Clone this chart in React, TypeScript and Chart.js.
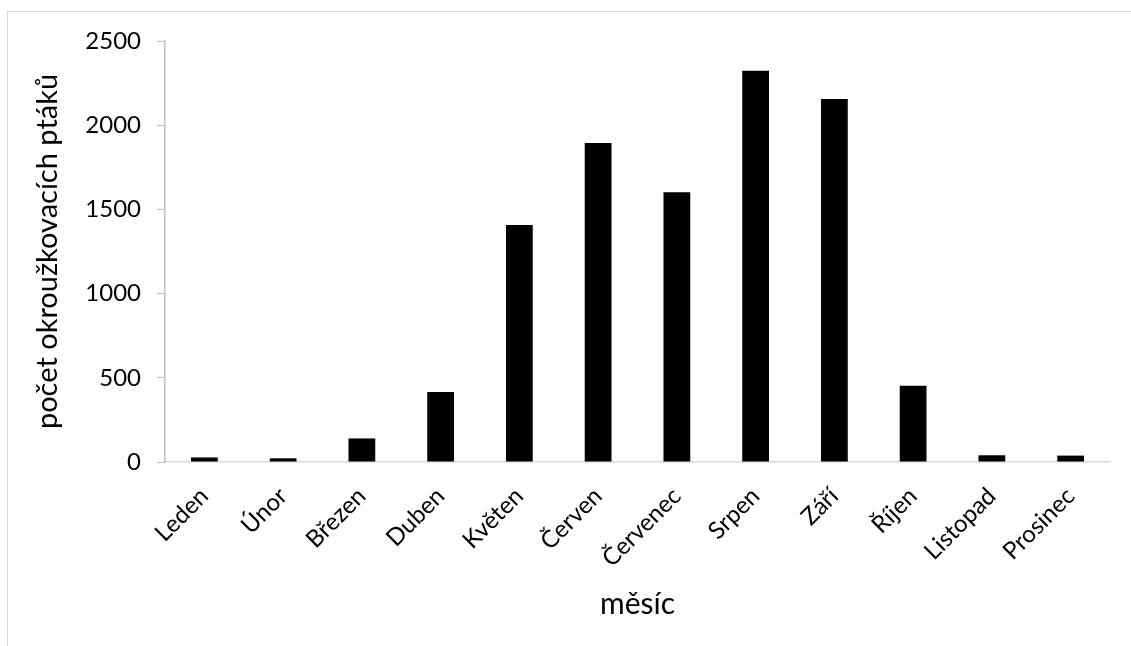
import React, { useEffect, useRef } from "react";
import { Chart, registerables } from "chart.js";

Chart.register(...registerables);

const months = ["Leden", "Únor", "Březen", "Duben", "Květen", "Červen", "Červenec", "Srpen", "Září", "Říjen", "Listopad", "Prosinec"];
const birdCounts = [27, 22, 140, 415, 1408, 1894, 1602, 2324, 2156, 453, 40, 38];
const yTicks = [0, 500, 1000, 1500, 2000, 2500];
const xTitle = "měsíc";
const yTitle = "počet okroužkovacích ptáků";

const FONT = "Lato, 'Open Sans', sans-serif";

export default function App() {
  const ref = useRef<HTMLCanvasElement | null>(null);

  useEffect(() => {
    if (!ref.current) return;
    const chart = new Chart(ref.current, {
      type: "bar",
      data: {
        labels: months,
        datasets: [
          {
            data: birdCounts,
            backgroundColor: "#000000",
            borderWidth: 0,
            categoryPercentage: 1,
            barPercentage: 0.34,
          },
        ],
      },
      options: {
        responsive: false,
        animation: false,
        layout: { padding: { top: 41, right: 21, left: 0, bottom: 0 } },
        plugins: { legend: { display: false }, tooltip: { enabled: false } },
        scales: {
          x: {
            grid: { display: false },
            border: { display: true, color: "#d9d9d9", width: 1.5 },
            ticks: {
              color: "#000",
              font: { family: FONT, size: 24 },
              minRotation: 45,
              maxRotation: 45,
              padding: 12,
              autoSkip: false,
            },
            title: {
              display: true,
              text: xTitle,
              color: "#000",
              font: { family: FONT, size: 30 },
              padding: { top: 4, bottom: 24 },
            },
            afterFit: (s: any) => {
              s.height = 184;
            },
          },
          y: {
            min: 0,
            max: 2500,
            afterBuildTicks: (s: any) => {
              s.ticks = yTicks.map((v) => ({ value: v }));
            },
            grid: {
              drawOnChartArea: false,
              drawTicks: true,
              tickLength: 8,
              color: "#bfbfbf",
            },
            border: { display: true, color: "#bfbfbf", width: 1.5 },
            ticks: {
              color: "#000",
              font: { family: FONT, size: 24 },
              padding: 16,
              callback: (v: any) => String(v),
            },
            title: {
              display: true,
              text: yTitle,
              color: "#000",
              font: { family: FONT, size: 29 },
              padding: { top: 30, bottom: 4 },
            },
            afterFit: (s: any) => {
              s.width = 165;
            },
          },
        },
      },
    });
    return () => chart.destroy();
  }, []);

  return (
    <div style={{ position: "fixed", left: 0, top: 0, width: 1131, height: 646, overflow: "hidden", background: "#fff" }}>
      <div
        style={{
          position: "absolute",
          left: 7,
          top: 11,
          width: 1200,
          height: 700,
          border: "1px solid #d9d9d9",
          boxSizing: "border-box",
        }}
      />
      <canvas ref={ref} width={1131} height={646} style={{ position: "absolute", left: 0, top: 0, width: 1131, height: 646 }} />
    </div>
  );
}
